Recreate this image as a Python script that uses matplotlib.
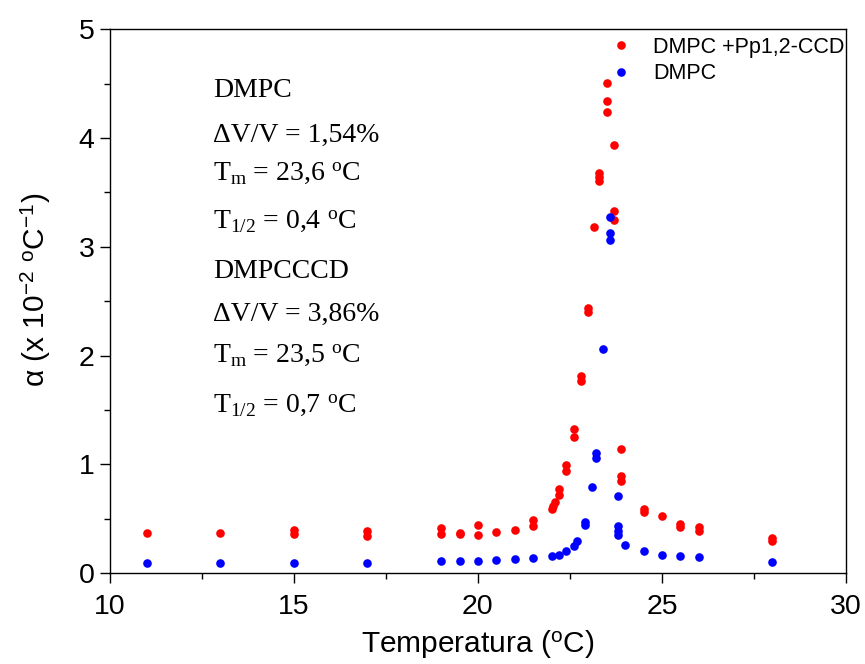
import matplotlib
matplotlib.use("Agg")
import matplotlib.pyplot as plt
from matplotlib.ticker import MultipleLocator

plt.rcParams['font.family'] = ['Liberation Sans', 'DejaVu Sans']
plt.rcParams['mathtext.fontset'] = 'custom'
plt.rcParams['mathtext.rm'] = 'Liberation Serif'
plt.rcParams['mathtext.sf'] = 'Liberation Sans'
plt.rcParams['mathtext.it'] = 'Liberation Serif:italic'

# DMPC +Pp1,2-CCD (red)
t_ccd = [11, 13, 15, 15, 17, 17, 19, 19, 19.5, 19.5, 20, 20, 20.5, 21, 21.5, 21.5,
         22.0, 22.05, 22.1, 22.2, 22.2, 22.4, 22.4, 22.6, 22.6, 22.8, 22.8, 23.0, 23.0,
         23.15, 23.3, 23.3, 23.3, 23.5, 23.5, 23.5, 23.7, 23.7, 23.7, 23.9, 23.9, 23.9,
         24.5, 24.5, 25.0, 25.5, 25.5, 26.0, 26.0, 28.0, 28.0]
a_ccd = [0.37, 0.37, 0.40, 0.36, 0.39, 0.34, 0.41, 0.36, 0.37, 0.36, 0.44, 0.35, 0.38, 0.40, 0.49, 0.43,
         0.59, 0.62, 0.65, 0.77, 0.72, 0.99, 0.94, 1.32, 1.25, 1.81, 1.77, 2.44, 2.40,
         3.18, 3.68, 3.64, 3.60, 4.51, 4.34, 4.24, 3.94, 3.33, 3.25, 1.14, 0.89, 0.85,
         0.59, 0.565, 0.52, 0.455, 0.42, 0.42, 0.39, 0.325, 0.295]

# DMPC (blue)
t_dmpc = [11, 13, 15, 17, 19, 19.5, 20, 20.5, 21, 21.5, 22.0, 22.2, 22.4, 22.6, 22.7,
          22.9, 22.9, 23.1, 23.2, 23.2, 23.4, 23.6, 23.6, 23.6, 23.8, 23.8, 23.8, 23.8,
          24.0, 24.5, 25.0, 25.5, 26.0, 28.0]
a_dmpc = [0.09, 0.095, 0.095, 0.095, 0.11, 0.11, 0.11, 0.12, 0.13, 0.135, 0.16, 0.17, 0.20, 0.25, 0.29,
          0.44, 0.47, 0.79, 1.06, 1.10, 2.06, 3.27, 3.13, 3.06, 0.71, 0.43, 0.39, 0.35,
          0.255, 0.20, 0.17, 0.155, 0.145, 0.105]

notes = ["DMPC",
         "ΔV/V = 1,54%",
         r"T$_{\rm m}$ = 23,6 $^{\rm o}$C",
         r"T$_{\rm 1/2}$ = 0,4 $^{\rm o}$C",
         "DMPCCCD",
         "ΔV/V = 3,86%",
         r"T$_{\rm m}$ = 23,5 $^{\rm o}$C",
         r"T$_{\rm 1/2}$ = 0,7 $^{\rm o}$C"]
note_y = [4.375, 3.96, 3.61, 3.17, 2.71, 2.32, 1.94, 1.48]

fig = plt.figure(figsize=(8.65, 6.64), dpi=100)
ax = fig.add_axes([0.127, 0.137, 0.851, 0.819])

ax.plot(t_ccd, a_ccd, 'o', color='#ff0000', ms=6.2, mec='none', label='DMPC +Pp1,2-CCD')
ax.plot(t_dmpc, a_dmpc, 'o', color='#0000ff', ms=6.2, mec='none', label='DMPC')

for txt, yy in zip(notes, note_y):
    ax.text(12.8, yy, txt, fontsize=20, family='Liberation Serif', va='baseline')

ax.set_xlim(10, 30)
ax.set_ylim(0, 5)
ax.xaxis.set_major_locator(MultipleLocator(5))
ax.xaxis.set_minor_locator(MultipleLocator(2.5))
ax.yaxis.set_major_locator(MultipleLocator(1))
ax.yaxis.set_minor_locator(MultipleLocator(0.5))
ax.tick_params(which='both', direction='out', top=False, right=False, width=1.0, labelsize=20.5)
ax.tick_params(which='major', length=7.5)
ax.tick_params(which='minor', length=4)
ax.tick_params(axis='x', which='major', pad=7.5)
for s in ax.spines.values():
    s.set_linewidth(1.0)

ax.set_xlabel(r"Temperatura ($^{\mathsf{o}}$C)", fontsize=21.5, labelpad=5.5)
ax.set_ylabel(r"α (x 10$^{\mathsf{-2}}$ $^{\mathsf{o}}$C$^{\mathsf{-1}}$)", fontsize=21.5)
ax.yaxis.set_label_coords(-0.0775, 0.52)

ax.legend(loc='upper left', bbox_to_anchor=(610 / 865, 1 - 37 / 664), bbox_transform=fig.transFigure,
          frameon=False, fontsize=15.5, borderpad=0, borderaxespad=0, handlelength=1.0,
          handletextpad=1.0, labelspacing=0.24, markerscale=1.0)

fig.savefig('out.png', dpi=100)
